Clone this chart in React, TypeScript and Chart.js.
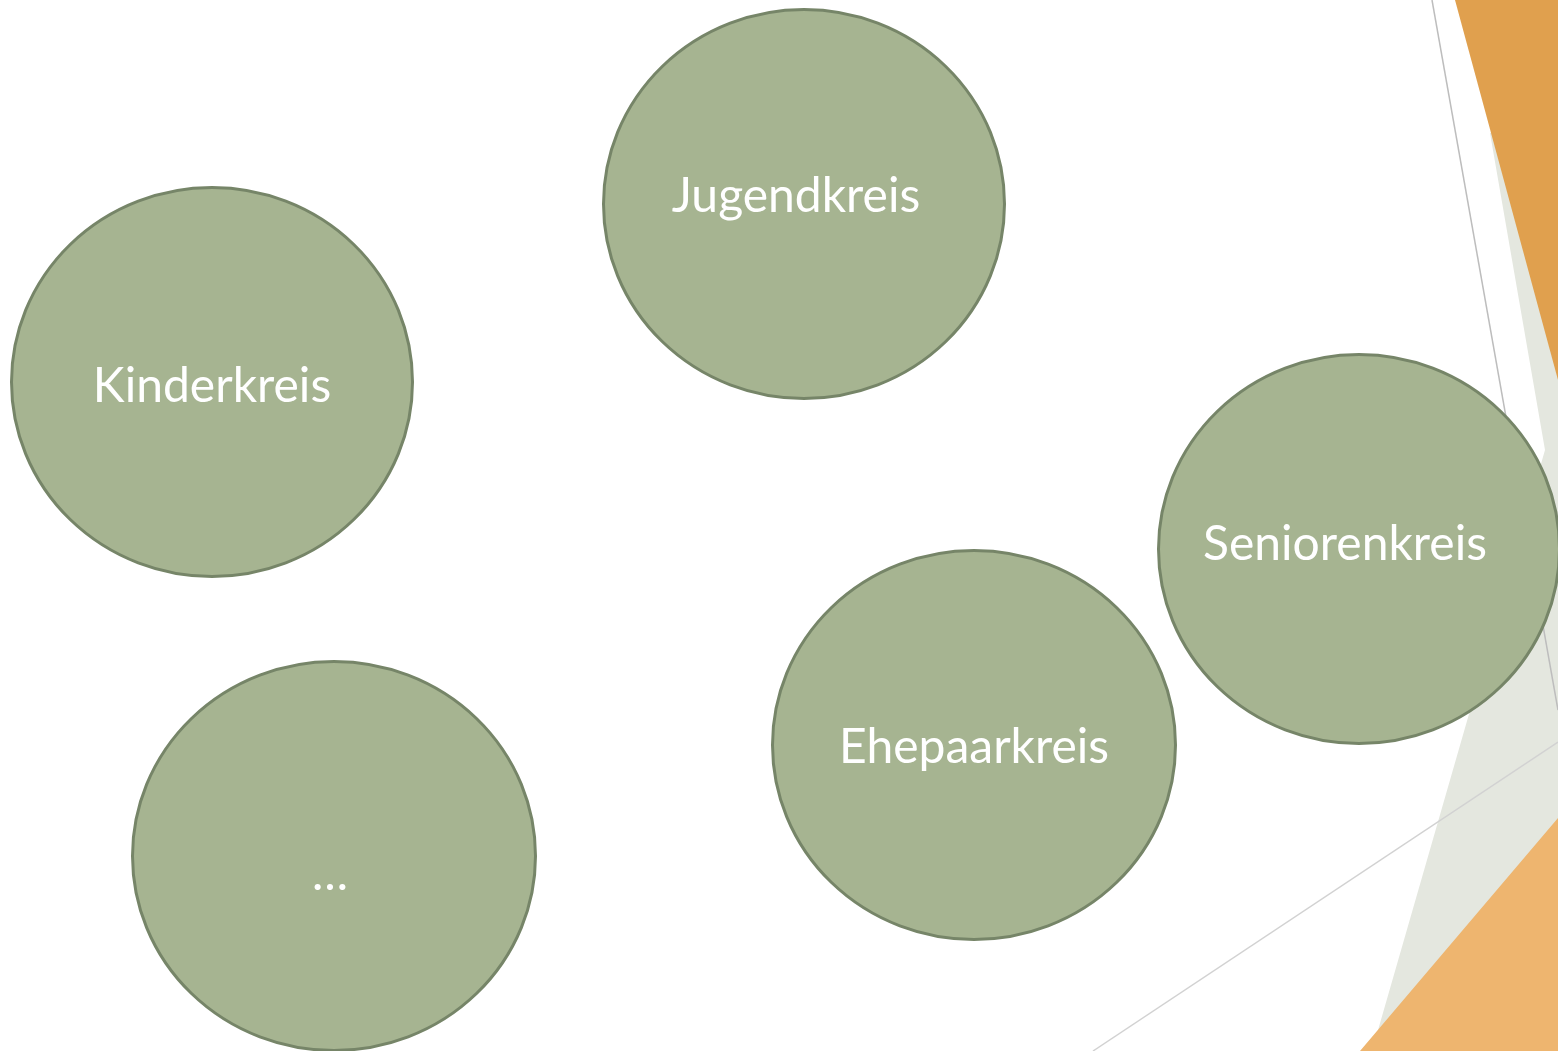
import React, { useEffect, useRef } from "react";
import { Chart, registerables } from "chart.js";

Chart.register(...registerables);

// Circles (centres and radii in slide pixels)
const circleLabels = ["Kinderkreis", "Jugendkreis", "Seniorenkreis", "Ehepaarkreis", "…"];
const circleX = [212, 804, 1359, 974, 334];
const circleY = [382, 204, 549, 745, 856];
const circleRx = [202, 202, 202, 203, 203];
const circleRy = [196, 196, 196, 196, 196];
const labelDx = [0, -8, -14, 0, -4];
const labelDy = [20, 8, 11, 18, 34];

// Decorative facets on the right
const facetX = [1490, 1545, 1372, 1558, 1558];
const facetY = [133, 450, 1051, 1051, 133];
const topOrangeX = [1455, 1558, 1558];
const topOrangeY = [0, 380, 0];
const bottomOrangeX = [1360, 1558, 1558];
const bottomOrangeY = [1051, 818, 1051];
const line1X = [1432, 1558];
const line1Y = [0, 710];
const line2X = [1093, 1558];
const line2Y = [1051, 742];

const W = 1558;
const H = 1051;

const FILL = "#A6B491";
const STROKE = "#768568";

function pts(xs: number[], ys: number[]) {
  return xs.map((x, i) => ({ x, y: ys[i] }));
}

function ellipseImage(rx: number, ry: number): HTMLCanvasElement {
  const c = document.createElement("canvas");
  c.width = Math.ceil(rx * 2 + 4);
  c.height = Math.ceil(ry * 2 + 4);
  const ctx = c.getContext("2d")!;
  ctx.beginPath();
  ctx.ellipse(c.width / 2, c.height / 2, rx - 1.5, ry - 1.5, 0, 0, Math.PI * 2);
  ctx.fillStyle = FILL;
  ctx.fill();
  ctx.lineWidth = 3;
  ctx.strokeStyle = STROKE;
  ctx.stroke();
  return c;
}

const labelPlugin = {
  id: "circleLabels",
  afterDatasetsDraw(chart: any) {
    const meta = chart.getDatasetMeta(0);
    const ctx = chart.ctx;
    ctx.save();
    ctx.fillStyle = "#FFFFFF";
    ctx.textAlign = "center";
    ctx.textBaseline = "alphabetic";
    ctx.font = "48px Lato, 'Open Sans', sans-serif";
    meta.data.forEach((el: any, i: number) => {
      ctx.fillText(circleLabels[i], el.x + labelDx[i], el.y + labelDy[i]);
    });
    ctx.restore();
  },
};

export default function App() {
  const ref = useRef<HTMLCanvasElement>(null);

  useEffect(() => {
    if (!ref.current) return;
    const images = circleRx.map((rx, i) => ellipseImage(rx, circleRy[i]));
    const shape = (xs: number[], ys: number[], color: string) => ({
      type: "line" as const,
      data: pts(xs, ys),
      backgroundColor: color,
      borderColor: color,
      borderWidth: 0,
      pointRadius: 0,
      fill: "shape",
      tension: 0,
      showLine: true,
    });
    const line = (xs: number[], ys: number[], color: string) => ({
      type: "line" as const,
      data: pts(xs, ys),
      borderColor: color,
      borderWidth: 1.5,
      pointRadius: 0,
      fill: false,
      tension: 0,
      showLine: true,
    });
    const chart = new Chart(ref.current, {
      type: "scatter",
      data: {
        datasets: [
          {
            type: "scatter",
            data: pts(circleX, circleY),
            pointStyle: images as any,
            pointRadius: 10,
            pointHoverRadius: 10,
            backgroundColor: FILL,
            clip: false,
          } as any,
          line(line2X, line2Y, "#D2D2D2"),
          line(line1X, line1Y, "#BDBDBD"),
          shape(bottomOrangeX, bottomOrangeY, "#EEB56F"),
          shape(topOrangeX, topOrangeY, "#E0A04E"),
          shape(facetX, facetY, "#E4E7DF"),
        ] as any,
      },
      options: {
        responsive: false,
        animation: false,
        events: [],
        layout: { padding: 0, autoPadding: false },
        plugins: {
          legend: { display: false },
          tooltip: { enabled: false },
        },
        scales: {
          x: { type: "linear", min: 0, max: W, display: false },
          y: { type: "linear", min: 0, max: H, reverse: true, display: false },
        },
      },
      plugins: [labelPlugin],
    });
    return () => chart.destroy();
  }, []);

  return (
    <div
      style={{
        position: "fixed",
        left: 0,
        top: 0,
        width: W,
        height: H,
        background: "#FFFFFF",
        overflow: "hidden",
      }}
    >
      <canvas ref={ref} width={W} height={H} style={{ display: "block" }} />
    </div>
  );
}
